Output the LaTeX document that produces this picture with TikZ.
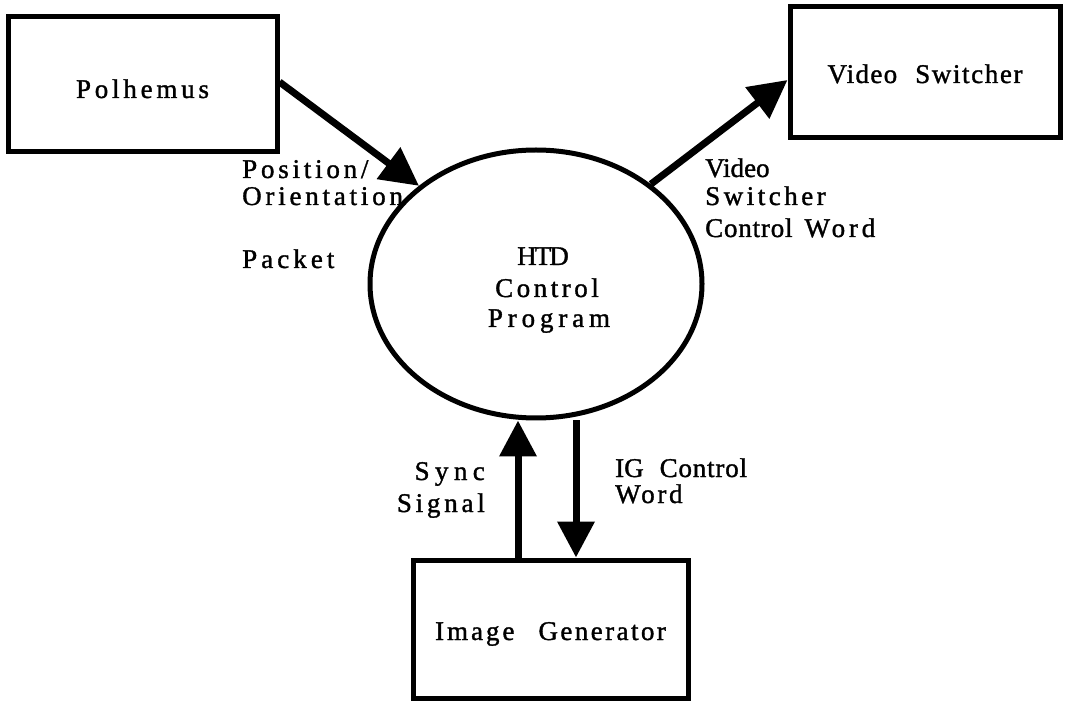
\documentclass[tikz,border=0pt]{standalone}
\usepackage{fontspec}
\setmainfont{Liberation Serif}[FakeBold=1.3]
\usetikzlibrary{arrows.meta,shapes.geometric}
\newcommand{\trk}[2]{{\addfontfeature{LetterSpace=#1}#2}}
\begin{document}
\begin{tikzpicture}[x=1pt,y=-1pt,
  box/.style={draw,line width=5pt,rectangle,inner sep=0pt,font=\fontsize{27}{31}\selectfont},
  lbl/.style={inner sep=0pt,font=\fontsize{27}{31}\selectfont},
  flow/.style={line width=7pt,-{Triangle[length=38pt,width=38pt]}},
  vflow/.style={line width=7pt,-{Triangle[length=36pt,width=36pt]}},
]
\useasboundingbox[fill=white] (0,0) rectangle (1082,708);
% boxes
\node[box,minimum width=269pt,minimum height=135pt,text height=27pt,text depth=0pt] (pol) at (142.5,84.5) {\trk{14}{Polhemus}};
\node[box,minimum width=270pt,minimum height=131pt,text height=21pt,text depth=0pt] (vs) at (925,72.5) {\trk{5}{Video}\hspace{18pt}\trk{6}{Switcher}};
\node[box,minimum width=275pt,minimum height=138pt,text height=22pt,text depth=0pt] (ig) at (550.5,629) {\trk{11}{Image}\hspace{24pt}\trk{9}{Generator}};
% process
\node[draw,ellipse,line width=5pt,minimum width=332pt,minimum height=268pt,inner sep=0pt] (htd) at (536,284) {};
\node[lbl,anchor=base] (htd1) at (543,265) {\trk{-7}{HTD}};
\node[lbl,anchor=base] (htd2) at (547,297) {\trk{13}{Control}};
\node[lbl,anchor=base] (htd3) at (549,327) {\trk{18}{Program}};
% labels
\node[lbl,anchor=base west] (pos1) at (242,178) {\trk{14}{Position/}};
\node[lbl,anchor=base west] (pos2) at (242,205) {\trk{14}{Orientation}};
\node[lbl,anchor=base west] (pos3) at (242,268) {\trk{15}{Packet}};
\node[lbl,anchor=base west] (vw1) at (705,177) {Video};
\node[lbl,anchor=base west] (vw2) at (705,205) {\trk{13}{Switcher}};
\node[lbl,anchor=base west] (vw3) at (705,237) {\trk{3}{Control}\hspace{12pt}\trk{14}{Word}};
\node[lbl,anchor=base east] (sy1) at (485,480) {\trk{20}{Sync}};
\node[lbl,anchor=base east] (sy2) at (485,512) {\trk{14}{Signal}};
\node[lbl,anchor=base west] (igw1) at (615,477) {IG\hspace{16pt}\trk{3}{Control}};
\node[lbl,anchor=base west] (igw2) at (615,503) {\trk{10}{Word}};
% connectors
\draw[flow] ([yshift=2.5pt]pol.east) -- (htd.140);
\draw[flow] (htd.41.5) -- ([yshift=-7.5pt]vs.west);
\coordinate (sb) at ([xshift=-32.5pt]ig.north);
\draw[vflow] (sb) -- (sb |- htd.south);
\coordinate (ib) at ([xshift=25.5pt]ig.north);
\draw[vflow] (ib |- htd.south) -- (ib);
\end{tikzpicture}
\end{document}
